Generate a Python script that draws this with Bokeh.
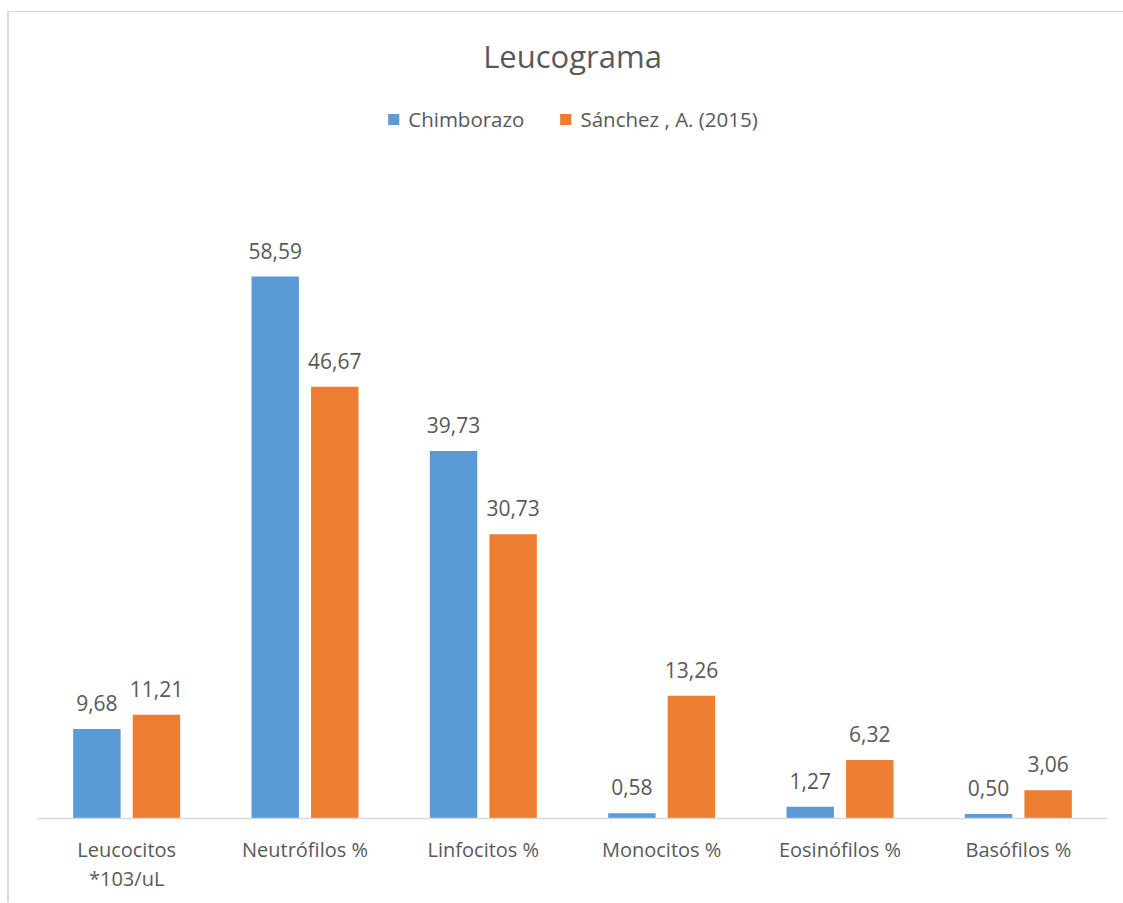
from bokeh.plotting import figure
from bokeh.models import (ColumnDataSource, FactorRange, Range1d, Legend, LegendItem,
                          LabelSet)
from bokeh.core.properties import value
from bokeh.transform import dodge
from bokeh.embed import file_html
from bokeh.resources import INLINE

categories = ["Leucocitos\n*103/uL", "Neutrófilos %", "Linfocitos %",
              "Monocitos %", "Eosinófilos %", "Basófilos %"]
chimborazo = [9.68, 58.59, 39.73, 0.58, 1.27, 0.50]
sanchez = [11.21, 46.67, 30.73, 13.26, 6.32, 3.06]
series_names = ["Chimborazo", "Sánchez , A. (2015)"]
title_text = "Leucograma"

BLUE = "#5B9BD5"
ORANGE = "#ED7D31"
TEXT = "#595959"
FONT = "Open Sans"


def fmt(v):
    return f"{v:.2f}".replace(".", ",")


source = ColumnDataSource(dict(
    cat=categories,
    chim=chimborazo,
    sanc=sanchez,
    chim_lab=[fmt(v) for v in chimborazo],
    sanc_lab=[fmt(v) for v in sanchez],
))

# page geometry
HOST_LEFT, HOST_TOP = 9, 12
CANVAS_W, CANVAS_H = 1123 - HOST_LEFT, 903 - HOST_TOP
FRAME_LEFT, FRAME_RIGHT = 37, 1107
FRAME_TOP, BASE = 85, 818
PX_PER_UNIT = 9.25
y_end = (BASE - FRAME_TOP) / PX_PER_UNIT

p = figure(x_range=FactorRange(*categories, range_padding=0),
           y_range=Range1d(0, y_end),
           width=CANVAS_W, height=CANVAS_H,
           output_backend="svg", toolbar_location=None,
           y_axis_location=None,
           min_border_left=FRAME_LEFT - HOST_LEFT,
           min_border_right=1123 - FRAME_RIGHT,
           min_border_top=FRAME_TOP - HOST_TOP,
           min_border_bottom=CANVAS_H - (BASE - HOST_TOP))
p.margin = (HOST_TOP, 0, 0, HOST_LEFT)
p.styles = {"box-shadow": "-2px -1px 0 0 #d9d9d9, 0 -1px 0 0 #d9d9d9"}
p.outline_line_color = None
p.xgrid.visible = False
p.ygrid.visible = False

off = 0.167
w = 0.266
r1 = p.vbar(x=dodge("cat", -off, range=p.x_range), top="chim", width=w,
            source=source, fill_color=BLUE, line_color=None)
r2 = p.vbar(x=dodge("cat", off, range=p.x_range), top="sanc", width=w,
            source=source, fill_color=ORANGE, line_color=None)

for xf, col in ((-off, "chim"), (off, "sanc")):
    p.add_layout(LabelSet(x=dodge("cat", xf, range=p.x_range), y=col,
                          text=col + "_lab", source=source,
                          text_align="center", text_baseline="alphabetic",
                          y_offset=18, text_font=value(FONT),
                          text_font_size=value("21px"),
                          text_color=TEXT))

ax = p.xaxis[0]
ax.axis_line_color = "#d9d9d9"
ax.axis_line_width = 1.5
ax.major_tick_line_color = None
ax.minor_tick_line_color = None
ax.major_label_text_font = FONT
ax.major_label_text_font_size = "20px"
ax.major_label_text_color = TEXT
ax.major_label_standoff = 11
ax.major_label_text_line_height = 1.1

legend = Legend(items=[LegendItem(label=series_names[0], renderers=[r1]),
                       LegendItem(label=series_names[1], renderers=[r2])],
                orientation="horizontal", location="top_center",
                glyph_width=14, glyph_height=14, label_standoff=8, spacing=34,
                label_text_font=FONT, label_text_font_size="20.5px",
                label_text_color=TEXT, border_line_color=None,
                background_fill_alpha=0, padding=0, margin=20)
p.add_layout(legend, "center")

p.title.text = title_text
p.title.align = "center"
p.title.text_font = FONT
p.title.text_font_size = "31px"
p.title.text_font_style = "normal"
p.title.text_color = TEXT
p.title.standoff = 17

open("out.html", "w").write(file_html(p, INLINE))
